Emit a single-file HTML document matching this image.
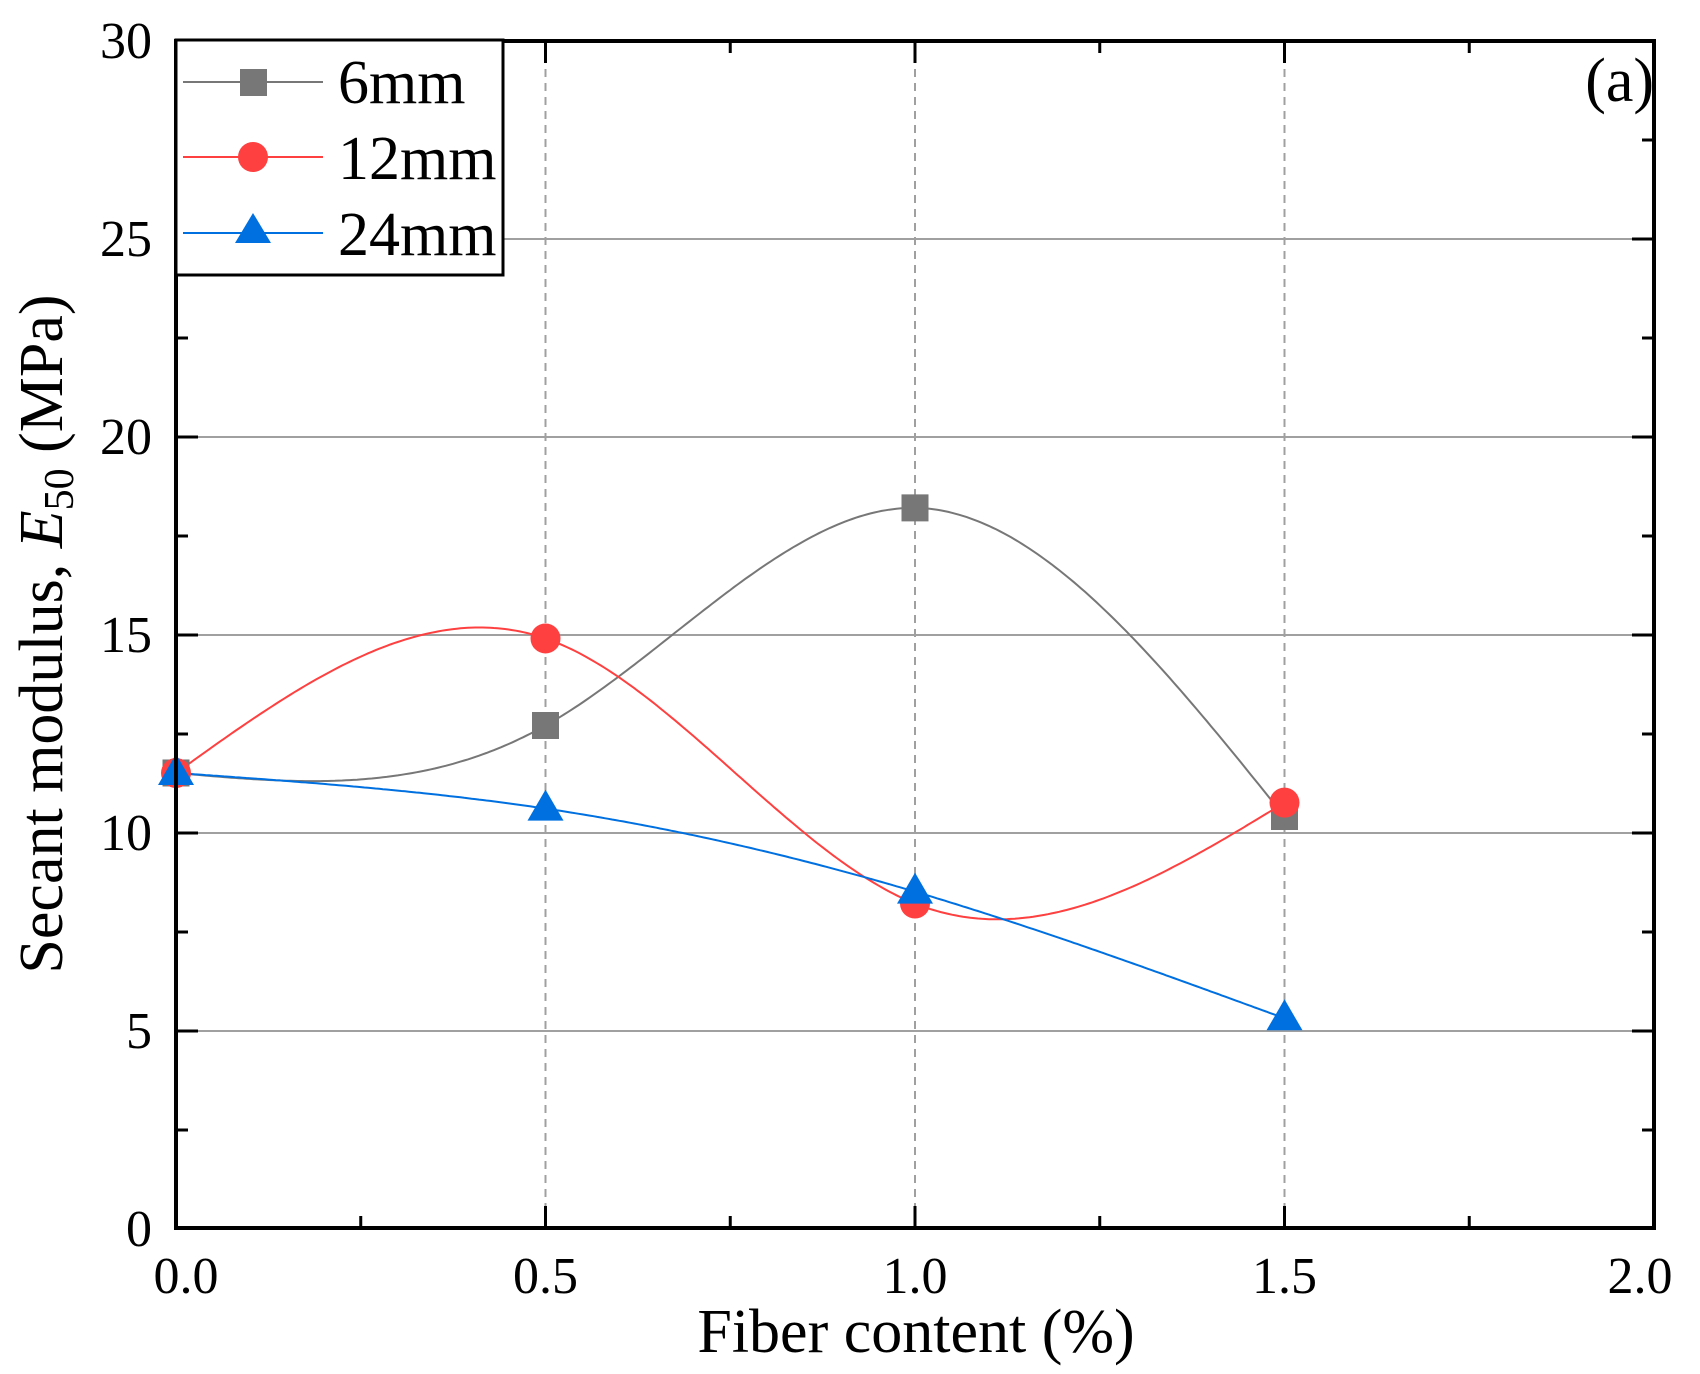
<!DOCTYPE html>
<html><head><meta charset="utf-8"><style>
html,body{margin:0;padding:0;background:#fff;}
svg{display:block;}
text{font-family:"Liberation Serif","Times New Roman",serif;fill:#000;}
</style></head><body>
<svg id="s" width="1700" height="1374" viewBox="0 0 1700 1374" xmlns="http://www.w3.org/2000/svg">
<rect width="1700" height="1374" fill="#fff"/>
<g stroke="#a0a0a0" stroke-width="2">
<line x1="176" y1="239" x2="1654" y2="239"/>
<line x1="176" y1="437" x2="1654" y2="437"/>
<line x1="176" y1="635" x2="1654" y2="635"/>
<line x1="176" y1="833" x2="1654" y2="833"/>
<line x1="176" y1="1031" x2="1654" y2="1031"/>
</g>
<g stroke="#a0a0a0" stroke-width="2" stroke-dasharray="8,6">
<line x1="545.5" y1="41" x2="545.5" y2="1228"/>
<line x1="915" y1="41" x2="915" y2="1228"/>
<line x1="1284.5" y1="41" x2="1284.5" y2="1228"/>
</g>
<g id="series" fill="none" stroke-width="2"></g>
<g id="markers"></g>
<g stroke="#000" stroke-width="3">
<line x1="176" y1="1031" x2="198" y2="1031"/><line x1="176" y1="833" x2="198" y2="833"/><line x1="176" y1="635" x2="198" y2="635"/><line x1="176" y1="437" x2="198" y2="437"/><line x1="176" y1="239" x2="198" y2="239"/>
<line x1="176" y1="1130" x2="188" y2="1130"/><line x1="176" y1="932" x2="188" y2="932"/><line x1="176" y1="734" x2="188" y2="734"/><line x1="176" y1="536" x2="188" y2="536"/><line x1="176" y1="338" x2="188" y2="338"/><line x1="176" y1="140" x2="188" y2="140"/>
<line x1="1654" y1="1031" x2="1632" y2="1031"/><line x1="1654" y1="833" x2="1632" y2="833"/><line x1="1654" y1="635" x2="1632" y2="635"/><line x1="1654" y1="437" x2="1632" y2="437"/><line x1="1654" y1="239" x2="1632" y2="239"/>
<line x1="1654" y1="1130" x2="1642" y2="1130"/><line x1="1654" y1="932" x2="1642" y2="932"/><line x1="1654" y1="734" x2="1642" y2="734"/><line x1="1654" y1="536" x2="1642" y2="536"/><line x1="1654" y1="338" x2="1642" y2="338"/><line x1="1654" y1="140" x2="1642" y2="140"/>
<line x1="545.5" y1="1228" x2="545.5" y2="1206"/><line x1="915" y1="1228" x2="915" y2="1206"/><line x1="1284.5" y1="1228" x2="1284.5" y2="1206"/>
<line x1="360.75" y1="1228" x2="360.75" y2="1216"/><line x1="730.25" y1="1228" x2="730.25" y2="1216"/><line x1="1099.75" y1="1228" x2="1099.75" y2="1216"/><line x1="1469.25" y1="1228" x2="1469.25" y2="1216"/>
<line x1="545.5" y1="41" x2="545.5" y2="63"/><line x1="915" y1="41" x2="915" y2="63"/><line x1="1284.5" y1="41" x2="1284.5" y2="63"/>
<line x1="360.75" y1="41" x2="360.75" y2="53"/><line x1="730.25" y1="41" x2="730.25" y2="53"/><line x1="1099.75" y1="41" x2="1099.75" y2="53"/><line x1="1469.25" y1="41" x2="1469.25" y2="53"/>
</g>
<rect x="176" y="41" width="1478" height="1187" fill="none" stroke="#000" stroke-width="4"/>
<g font-size="52" text-anchor="end">
<text x="152" y="1246">0</text><text x="152" y="1048">5</text><text x="152" y="850">10</text><text x="152" y="652">15</text><text x="152" y="454">20</text><text x="152" y="256">25</text><text x="152" y="58">30</text>
</g>
<g font-size="52" text-anchor="middle">
<text x="186" y="1293">0.0</text><text x="545.5" y="1293">0.5</text><text x="915" y="1293">1.0</text><text x="1284.5" y="1293">1.5</text><text x="1640" y="1293">2.0</text>
</g>
<text x="916" y="1352" font-size="62" text-anchor="middle">Fiber content (%)</text>
<text transform="translate(62,634) rotate(-90)" font-size="62" text-anchor="middle">Secant modulus, <tspan font-style="italic">E</tspan><tspan font-size="42" dy="11">50</tspan><tspan dy="-11"> (MPa)</tspan></text>
<text x="1654" y="101" font-size="62" text-anchor="end">(a)</text>
<rect x="176" y="40" width="327" height="235" fill="#fff" stroke="#000" stroke-width="3"/>
<line x1="183" y1="82" x2="323" y2="82" stroke="#777" stroke-width="2"/>
<rect x="240" y="69" width="27" height="27" fill="#777"/>
<line x1="183" y1="157" x2="323" y2="157" stroke="#ff4040" stroke-width="2"/>
<circle cx="253" cy="157" r="15" fill="#ff4040"/>
<line x1="183" y1="233" x2="323" y2="233" stroke="#0070e0" stroke-width="2"/>
<polygon points="253,213 235,243 271,243" fill="#0070e0"/>
<g font-size="62"><text x="338" y="103">6mm</text><text x="338" y="179">12mm</text><text x="338" y="255">24mm</text></g>
</svg>
<script>
(function(){
var X=function(v){return 176+v*739;},Y=function(v){return 1228-v*39.567;};
var xs=[0,0.5,1,1.5];
var data=[["#777",[11.5,12.7,18.2,10.4],"sq"],["#ff4040",[11.5,14.9,8.2,10.75],"ci"],["#0070e0",[11.5,10.6,8.5,5.3],"tr"]];
function spline(x,y){var n=x.length,h=[],a=[],l=[1],mu=[0],z=[0],c=new Array(n).fill(0),b=[],d=[];
for(var i=0;i<n-1;i++)h[i]=x[i+1]-x[i];
for(i=1;i<n-1;i++)a[i]=3/h[i]*(y[i+1]-y[i])-3/h[i-1]*(y[i]-y[i-1]);
for(i=1;i<n-1;i++){l[i]=2*(x[i+1]-x[i-1])-h[i-1]*mu[i-1];mu[i]=h[i]/l[i];z[i]=(a[i]-h[i-1]*z[i-1])/l[i];}
l[n-1]=1;z[n-1]=0;c[n-1]=0;
for(var j=n-2;j>=0;j--){c[j]=z[j]-mu[j]*c[j+1];b[j]=(y[j+1]-y[j])/h[j]-h[j]*(c[j+1]+2*c[j])/3;d[j]=(c[j+1]-c[j])/(3*h[j]);}
return function(t){var k=Math.min(n-2,Math.floor(t/0.5));var dx=t-x[k];return y[k]+b[k]*dx+c[k]*dx*dx+d[k]*dx*dx*dx;};}
var ns="http://www.w3.org/2000/svg",g=document.getElementById("series"),m=document.getElementById("markers");
data.forEach(function(s){var f=spline(xs,s[1]),p="";
for(var t=0;t<=1.5001;t+=0.005){p+=(t==0?"M":"L")+X(t).toFixed(1)+","+Y(f(Math.min(t,1.5))).toFixed(1);}
var e=document.createElementNS(ns,"path");e.setAttribute("d",p);e.setAttribute("stroke",s[0]);g.appendChild(e);});
data.forEach(function(s){xs.forEach(function(xv,i){var cx=X(xv),cy=Y(s[1][i]),e;
if(s[2]=="sq"){e=document.createElementNS(ns,"rect");e.setAttribute("x",cx-13.5);e.setAttribute("y",cy-13.5);e.setAttribute("width",27);e.setAttribute("height",27);}
else if(s[2]=="ci"){e=document.createElementNS(ns,"circle");e.setAttribute("cx",cx);e.setAttribute("cy",cy);e.setAttribute("r",15);}
else{e=document.createElementNS(ns,"polygon");e.setAttribute("points",cx+","+(cy-19)+" "+(cx-18)+","+(cy+12)+" "+(cx+18)+","+(cy+12));}
e.setAttribute("fill",s[0]);m.appendChild(e);});});
})();
</script>
</body></html>
